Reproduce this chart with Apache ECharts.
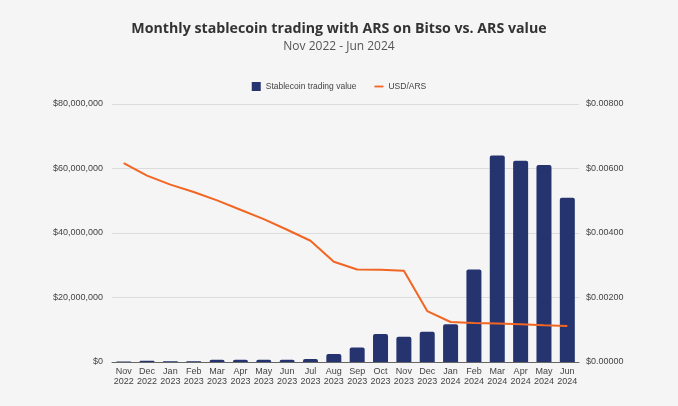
<!DOCTYPE html>
<html>
<head>
<meta charset="utf-8">
<script src="https://cdn.jsdelivr.net/npm/echarts@6/dist/echarts.min.js"></script>
<style>
html,body{margin:0;padding:0;background:#f5f5f5;}
#c{width:678px;height:406px;}
</style>
</head>
<body>
<div id="c"></div>
<script>
const categories = ["Nov\n2022","Dec\n2022","Jan\n2023","Feb\n2023","Mar\n2023","Apr\n2023","May\n2023","Jun\n2023","Jul\n2023","Aug\n2023","Sep\n2023","Oct\n2023","Nov\n2023","Dec\n2023","Jan\n2024","Feb\n2024","Mar\n2024","Apr\n2024","May\n2024","Jun\n2024"];
const tradingValue = [150000, 400000, 200000, 200000, 700000, 700000, 700000, 700000, 950000, 2500000, 4500000, 8700000, 7800000, 9400000, 11700000, 28700000, 64000000, 62400000, 61100000, 50900000];
const usdArs = [0.00617, 0.00578, 0.00550, 0.00527, 0.00501, 0.00472, 0.00443, 0.00410, 0.00376, 0.00311, 0.00287, 0.00286, 0.00283, 0.00158, 0.00124, 0.00121, 0.00119, 0.00117, 0.00114, 0.00112];

const chart = echarts.init(document.getElementById('c'), null, {renderer:'canvas'});
chart.setOption({
  backgroundColor: '#f5f5f5',
  animation: false,
  title: {
    text: 'Monthly stablecoin trading with ARS on Bitso vs. ARS value',
    subtext: 'Nov 2022 - Jun 2024',
    left: 'center',
    top: 17,
    itemGap: 5,
    textStyle: {fontFamily: 'Open Sans', fontWeight: 'bold', fontSize: 14.2, color: '#333'},
    subtextStyle: {fontFamily: 'Open Sans', fontSize: 12, color: '#555'}
  },
  legend: {
    top: 77,
    left: 'center',
    itemWidth: 9,
    itemHeight: 9,
    itemGap: 18,
    textStyle: {fontFamily: 'Liberation Sans', fontSize: 8.5, color: '#444'},
    data: [
      {name: 'Stablecoin trading value', icon: 'rect'},
      {name: 'USD/ARS', icon: 'path://M0,4 L10,4 L10,6 L0,6 Z'}
    ]
  },
  grid: {left: 112, right: 99, top: 104, bottom: 44},
  xAxis: {
    type: 'category',
    data: categories,
    axisTick: {show: false},
    axisLine: {lineStyle: {color: '#666', width: 1}},
    axisLabel: {fontFamily: 'Liberation Sans', fontSize: 9, color: '#444', lineHeight: 10, margin: 5, interval: 0}
  },
  yAxis: [
    {
      type: 'value', min: 0, max: 80000000, interval: 20000000,
      axisLabel: {fontFamily: 'Liberation Sans', fontSize: 9, color: '#444', margin: 9,
        formatter: v => '$' + v.toLocaleString('en-US')},
      splitLine: {lineStyle: {color: '#dcdcdc'}},
      axisLine: {show: false}, axisTick: {show: false}
    },
    {
      type: 'value', min: 0, max: 0.008, interval: 0.002,
      axisLabel: {fontFamily: 'Liberation Sans', fontSize: 9, color: '#444', margin: 7,
        formatter: v => '$' + v.toFixed(5)},
      splitLine: {show: false},
      axisLine: {show: false}, axisTick: {show: false}
    }
  ],
  series: [
    {
      name: 'Stablecoin trading value',
      type: 'bar',
      data: tradingValue,
      barWidth: 15,
      itemStyle: {color: '#25346f', borderRadius: [2,2,0,0]}
    },
    {
      name: 'USD/ARS',
      type: 'line',
      yAxisIndex: 1,
      data: usdArs,
      symbol: 'none',
      lineStyle: {color: '#f26522', width: 2},
      itemStyle: {color: '#f26522'}
    }
  ]
});
</script>
</body>
</html>
